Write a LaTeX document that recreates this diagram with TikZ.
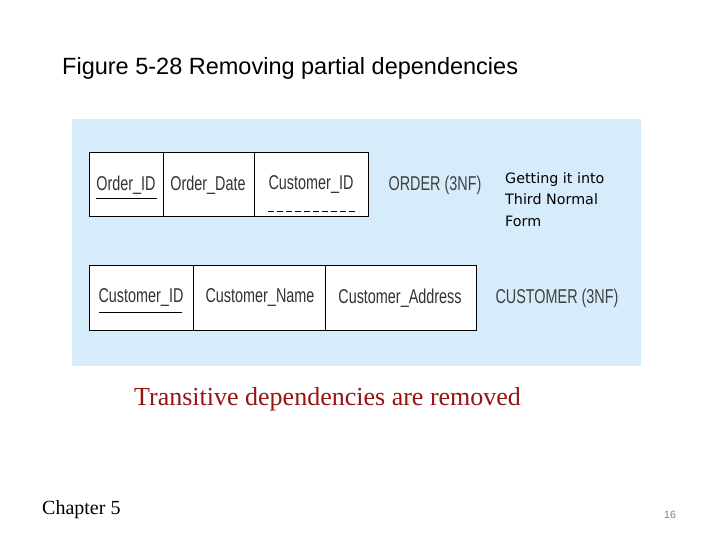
\documentclass[tikz,border=0pt]{standalone}
\usepackage{fontspec}
\setmainfont{Liberation Serif}
\newfontfamily\arialf{Liberation Sans}
\newfontfamily\dejaf{DejaVu Sans}
\begin{document}
\begin{tikzpicture}[x=1pt,y=-1pt,
  cell/.style={draw=black,line width=1pt,fill=white},
  fld/.style={font=\arialf\fontsize{20}{20}\selectfont,xscale=0.72,text=black!80,inner sep=0},
  rel/.style={font=\arialf\fontsize{20}{20}\selectfont,xscale=0.72,text=black!75,inner sep=0}]
\useasboundingbox (0,0) rectangle (720,540);
\fill[white] (0,0) rectangle (720,540);
\node[anchor=west,font=\arialf\fontsize{23.5}{24}\selectfont,inner sep=0] (title) at (62,68) {Figure 5-28 Removing partial dependencies};
\fill[fill={rgb,255:red,214;green,236;blue,250}] (72,119) rectangle (641,366);
% row 1
\draw[cell] (89,153) rectangle (368,217);
\draw[line width=1pt] (163,153) -- (163,217) (254,153) -- (254,217);
\node[fld] (o1) at (126,185) {Order\_ID};
\node[fld] (o2) at (208,185) {Order\_Date};
\node[fld] (o3) at (311,185) {Customer\_ID};
\draw[line width=1pt] (96,199) -- (157,199);
\draw[line width=1pt,dash pattern=on 6pt off 3pt] (268,212) -- (356,212);
\node[rel] (r1) at (435,185) {ORDER (3NF)};
\node[anchor=north west,align=left,font=\dejaf\fontsize{14.3}{21.5}\selectfont,inner sep=0] (g) at (505,172) {Getting it into\\Third Normal\\Form};
% row 2
\draw[cell] (89,265) rectangle (476,330);
\draw[line width=1pt] (193,265) -- (193,330) (325,265) -- (325,330);
\node[fld] (c1) at (141,298) {Customer\_ID};
\node[fld] (c2) at (260,298) {Customer\_Name};
\node[fld] (c3) at (400,298) {Customer\_Address};
\draw[line width=1pt] (99,312) -- (182,312);
\node[rel] (r2) at (557,298) {CUSTOMER (3NF)};
\node[anchor=west,inner sep=0,font=\fontsize{26}{28}\selectfont,text={rgb,255:red,150;green,20;blue,20}] (t) at (134,399) {Transitive dependencies are removed};
\node[anchor=west,inner sep=0,font=\fontsize{20}{21}\selectfont] (ch) at (42,510) {Chapter 5};
\node[inner sep=0,font=\arialf\fontsize{10.5}{11}\selectfont,text=gray] (n) at (670,515) {16};
\end{tikzpicture}
\end{document}
